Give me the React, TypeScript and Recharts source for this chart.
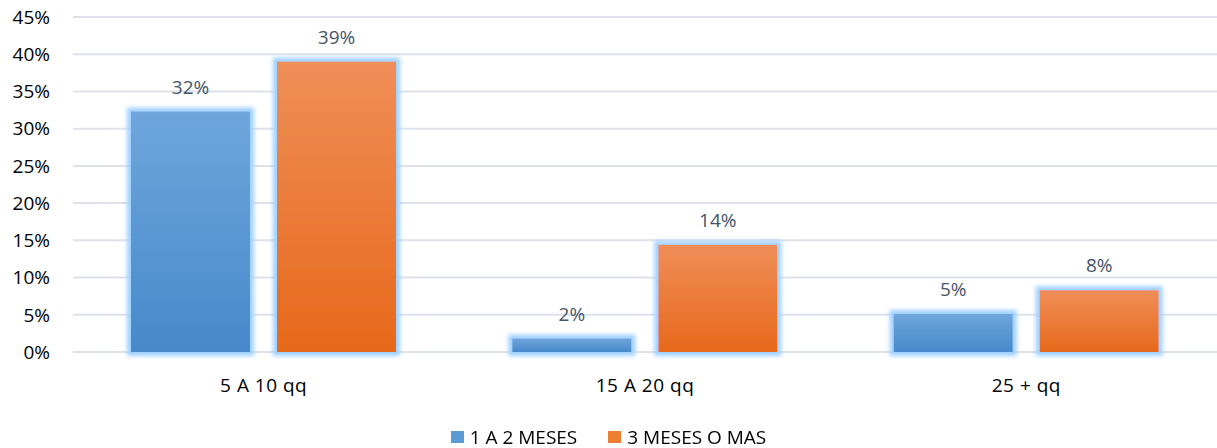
import React from "react"
import { Bar, BarChart, CartesianGrid, LabelList, Legend, XAxis, YAxis } from "recharts"

const categories = ["5 A 10 qq", "15 A 20 qq", "25 + qq"]
const unoADos = [0.323, 0.018, 0.051]
const tresOMas = [0.39, 0.144, 0.083]
const yTicks = [0, 0.05, 0.1, 0.15, 0.2, 0.25, 0.3, 0.35, 0.4, 0.45]
const seriesNames = ["1 A 2 MESES", "3 MESES O MAS"]
const seriesColors = ["#5b9bd5", "#ed7d31"]

const data = categories.map((name, i) => ({
  name,
  a: unoADos[i],
  b: tresOMas[i],
}))

const FONT = "'Open Sans', Lato, sans-serif"
const pct = (v: number) => `${Math.round(v * 100)}%`

const GlowBar = (props: any) => {
  const { x, y, width, height, fill } = props
  if (!height || height <= 0) return null
  return <rect x={x} y={y} width={width} height={height} fill={fill} filter="url(#glow)" />
}

const LegendContent = () => (
  <div
    style={{
      display: "flex",
      justifyContent: "center",
      alignItems: "center",
      gap: 31,
      fontFamily: FONT,
      fontSize: 19,
      lineHeight: "20px",
      color: "#000",
      paddingTop: 15,
    }}
  >
    {seriesNames.map((n, i) => (
      <div key={n} style={{ display: "flex", alignItems: "center", gap: 6 }}>
        <span style={{ width: 13, height: 12, background: seriesColors[i], display: "inline-block" }} />
        <span>{n}</span>
      </div>
    ))}
  </div>
)

export default function App() {
  return (
    <div style={{ position: "fixed", left: 0, top: 0, background: "#fff", fontFamily: FONT }}>
      <BarChart
        width={1217}
        height={448}
        data={data}
        margin={{ top: 17, right: 0, bottom: 0, left: 0 }}
        barCategoryGap={58}
        barGap={27}
      >
        <defs>
          <linearGradient id="gBlue" x1="0" y1="0" x2="0" y2="1">
            <stop offset="0%" stopColor="#6fa6dc" />
            <stop offset="100%" stopColor="#4689cb" />
          </linearGradient>
          <linearGradient id="gOrange" x1="0" y1="0" x2="0" y2="1">
            <stop offset="0%" stopColor="#f08e58" />
            <stop offset="100%" stopColor="#e7691b" />
          </linearGradient>
          <filter id="glow" filterUnits="userSpaceOnUse" x="0" y="0" width="1217" height="448">
            <feMorphology operator="dilate" radius="4" in="SourceAlpha" result="d" />
            <feGaussianBlur in="d" stdDeviation="2" result="b" />
            <feFlood floodColor="#9fd0ff" floodOpacity="1" />
            <feComposite in2="b" operator="in" result="g" />
            <feMerge>
              <feMergeNode in="g" />
              <feMergeNode in="SourceGraphic" />
            </feMerge>
          </filter>
        </defs>
        <CartesianGrid vertical={false} stroke="#dde2ea" strokeWidth={2} />
        <XAxis
          dataKey="name"
          axisLine={false}
          tickLine={false}
          tick={{ fill: "#000", fontSize: 19, fontFamily: FONT, letterSpacing: 0.5 }}
          tickMargin={21}
          height={60}
        />
        <YAxis
          domain={[0, 0.45]}
          ticks={yTicks}
          tickFormatter={pct}
          axisLine={false}
          tickLine={false}
          width={73}
          tickMargin={17}
          tick={{ fill: "#000", fontSize: 19, fontFamily: FONT }}
        />
        <Legend verticalAlign="bottom" height={36} content={LegendContent} />
        <Bar dataKey="a" name={seriesNames[0]} fill="url(#gBlue)" shape={GlowBar} isAnimationActive={false}>
          <LabelList dataKey="a" position="top" offset={18} formatter={pct} fill="#44546a" fontSize={19} fontFamily={FONT} />
        </Bar>
        <Bar dataKey="b" name={seriesNames[1]} fill="url(#gOrange)" shape={GlowBar} isAnimationActive={false}>
          <LabelList dataKey="b" position="top" offset={18} formatter={pct} fill="#44546a" fontSize={19} fontFamily={FONT} />
        </Bar>
      </BarChart>
    </div>
  )
}
